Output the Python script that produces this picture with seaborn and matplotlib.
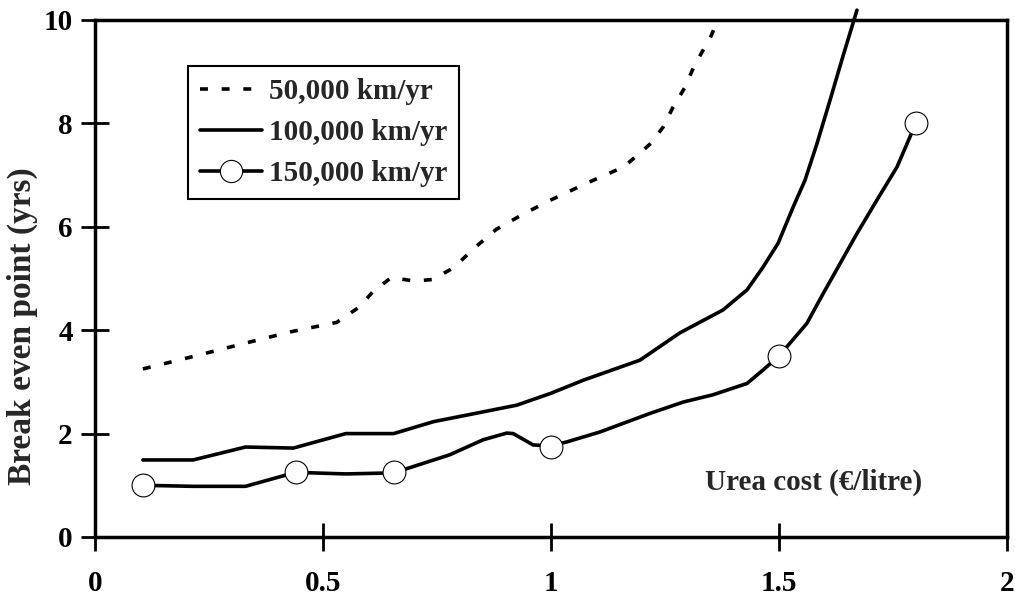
import numpy as np
import pandas as pd
import seaborn as sns
from matplotlib import pyplot as plt
from matplotlib.lines import Line2D

sns.set_style("ticks")
plt.rcParams['font.family'] = ['Liberation Serif', 'DejaVu Serif']
plt.rcParams['font.weight'] = 'bold'

# urea cost (EUR/litre) vs break even point (yrs)
x_50k = [0.105, 0.21, 0.33, 0.43, 0.53, 0.58, 0.61, 0.65, 0.70, 0.74, 0.785, 0.84, 0.88,
         0.94, 1.0, 1.08, 1.16, 1.19, 1.22, 1.246, 1.268, 1.294, 1.31, 1.33, 1.35, 1.366]
y_50k = [3.25, 3.48, 3.75, 3.97, 4.15, 4.45, 4.75, 5.02, 4.95, 4.98, 5.2, 5.65, 5.95,
         6.25, 6.52, 6.85, 7.16, 7.39, 7.62, 7.93, 8.32, 8.7, 9.03, 9.36, 9.67, 10.0]

x_100k = [0.105, 0.215, 0.33, 0.435, 0.55, 0.655, 0.742, 0.851, 0.925, 1.0, 1.07, 1.195,
          1.283, 1.377, 1.43, 1.465, 1.498, 1.531, 1.557, 1.583, 1.612, 1.64, 1.671]
y_100k = [1.49, 1.49, 1.74, 1.72, 2.0, 2.0, 2.23, 2.42, 2.55, 2.78, 3.03, 3.42,
          3.95, 4.39, 4.78, 5.22, 5.68, 6.38, 6.9, 7.6, 8.45, 9.29, 10.19]

x_150k = [0.105, 0.215, 0.33, 0.44, 0.55, 0.655, 0.778, 0.851, 0.903, 0.917, 0.961, 1.0,
          1.035, 1.107, 1.217, 1.29, 1.355, 1.43, 1.465, 1.5, 1.561, 1.597, 1.634,
          1.671, 1.715, 1.759, 1.8]
y_150k = [1.0, 0.98, 0.98, 1.25, 1.22, 1.24, 1.59, 1.88, 2.01, 2.0, 1.78, 1.76,
          1.84, 2.03, 2.39, 2.61, 2.75, 2.97, 3.23, 3.5, 4.13, 4.71, 5.29,
          5.87, 6.52, 7.16, 8.0]
x_pts = [0.105, 0.44, 0.655, 1.0, 1.5, 1.8]
y_pts = [1.0, 1.25, 1.25, 1.75, 3.5, 8.0]

labels = ["50,000 km/yr", "100,000 km/yr", "150,000 km/yr"]

fig = plt.figure(figsize=(10.15, 5.96), dpi=100)
ax = fig.add_axes([0.0936, 0.099, 0.8985, 0.8675])

lw = 2.6
dots = (0, (2.2, 3.8))
sns.lineplot(x=x_50k, y=y_50k, ax=ax, color='k', lw=lw, linestyle=dots, sort=False)
sns.lineplot(x=x_100k, y=y_100k, ax=ax, color='k', lw=lw, sort=False, clip_on=False)
sns.lineplot(x=x_150k, y=y_150k, ax=ax, color='k', lw=lw, sort=False)
sns.scatterplot(x=x_pts, y=y_pts, ax=ax, s=270, color='white', edgecolor='k',
                linewidth=0.8, zorder=5)

fs = 21
ax.set_xlim(0, 2)
ax.set_ylim(0, 10)
ax.set_xticks([0, 0.5, 1, 1.5, 2])
ax.set_xticklabels(["0", "0.5", "1", "1.5", "2"])
ax.set_yticks([0, 2, 4, 6, 8, 10])
ax.tick_params(axis='both', direction='inout', length=20, width=2, labelsize=fs, colors='k')
ax.tick_params(axis='x', pad=14)
ax.tick_params(axis='y', pad=6)
for s in ax.spines.values():
    s.set_linewidth(2.5)
    s.set_color('k')
    s.set_visible(True)

ax.set_ylabel("Break even point (yrs)", fontsize=24, fontweight='bold')
ax.yaxis.set_label_coords(-0.062, 0.408)
ax.text(1.575, 1.05, "Urea cost (\u20ac/litre)", fontsize=fs, fontweight='bold',
        ha='center', va='center')

handles = [Line2D([], [], color='k', lw=lw, linestyle=dots),
           Line2D([], [], color='k', lw=lw),
           Line2D([], [], color='k', lw=lw, marker='o', markersize=16,
                  markerfacecolor='white', markeredgecolor='k', markeredgewidth=0.8)]
leg = ax.legend(handles, labels, loc='upper left', bbox_to_anchor=(0.102, 0.911),
                borderaxespad=0, fancybox=False, framealpha=1, edgecolor='k',
                fontsize=fs, handlelength=2.1, handletextpad=0.25, labelspacing=0.48,
                borderpad=0.42, numpoints=1)
leg.get_frame().set_linewidth(1.5)

fig.savefig("out.png", dpi=100)
